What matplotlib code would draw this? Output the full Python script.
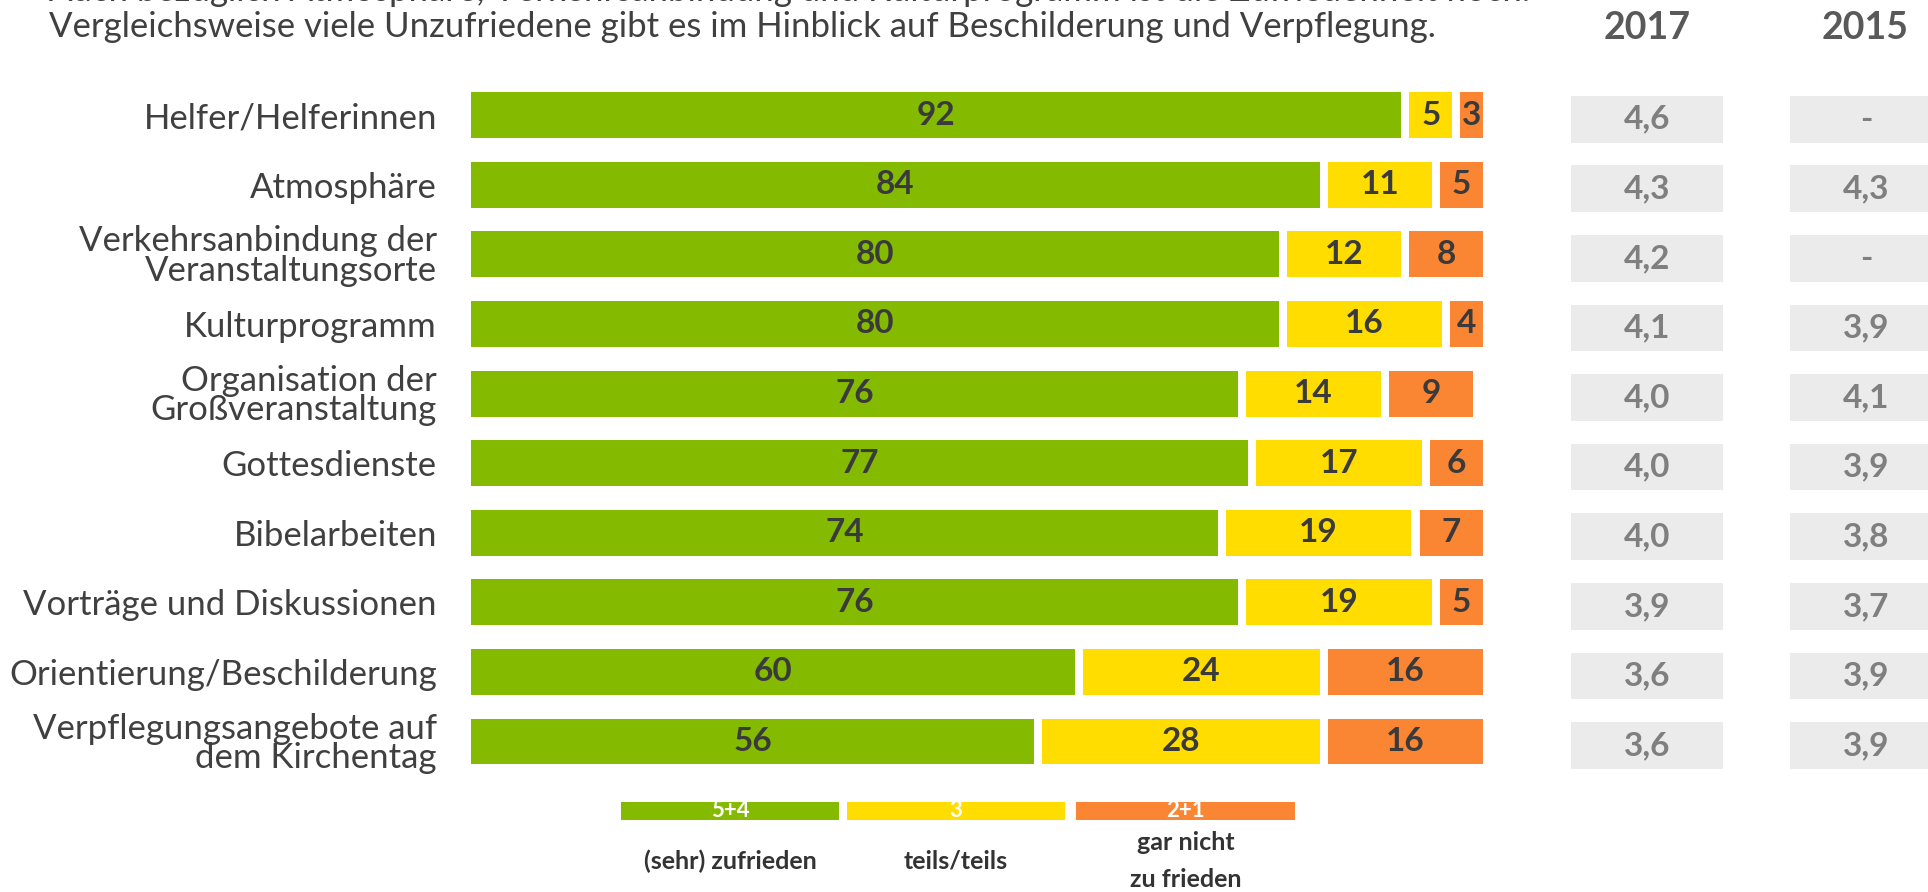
import matplotlib
matplotlib.use("Agg")
import matplotlib.pyplot as plt

W, H = 1928, 892

categories = [
    "Helfer/Helferinnen",
    "Atmosphäre",
    "Verkehrsanbindung der\nVeranstaltungsorte",
    "Kulturprogramm",
    "Organisation der\nGroßveranstaltung",
    "Gottesdienste",
    "Bibelarbeiten",
    "Vorträge und Diskussionen",
    "Orientierung/Beschilderung",
    "Verpflegungsangebote auf\ndem Kirchentag",
]
zufrieden = [92, 84, 80, 80, 76, 77, 74, 76, 60, 56]
teils = [5, 11, 12, 16, 14, 17, 19, 19, 24, 28]
unzufrieden = [3, 5, 8, 4, 9, 6, 7, 5, 16, 16]
mean_2017 = ["4,6", "4,3", "4,2", "4,1", "4,0", "4,0", "4,0", "3,9", "3,6", "3,6"]
mean_2015 = ["-", "4,3", "-", "3,9", "4,1", "3,9", "3,8", "3,7", "3,9", "3,9"]
years = ["2017", "2015"]
legend_keys = ["5+4", "3", "2+1"]
legend_labels = ["(sehr) zufrieden", "teils/teils", "gar nicht\nzu frieden"]

GREEN = "#84BB00"
YELLOW = "#FFDD00"
ORANGE = "#FA8633"
TXT = "#404040"
FONT = "Lato"

plt.rcParams["font.family"] = [FONT, "DejaVu Sans"]


def fx(x):
    return x / W


def fy(y):
    return 1 - y / H


fig = plt.figure(figsize=(W / 100, H / 100), dpi=100)

# ****** stacked bars
top, bottom = 80.4, 776.3
ax = fig.add_axes([fx(471), fy(bottom), (1491 - 471) / W, (bottom - top) / H])
rows = list(range(len(categories)))
gap = 0.8
starts = [0] * len(rows)
for vals, col in [(zufrieden, GREEN), (teils, YELLOW), (unzufrieden, ORANGE)]:
    widths = [v - gap for v in vals]
    ax.barh(rows, widths, left=starts, height=0.66, color=col, linewidth=0)
    for i, v in enumerate(vals):
        ax.text(starts[i] + (v - gap) / 2, i, str(v), ha="center", va="center",
                fontsize=24, fontweight="bold", color="#3A3A3A")
    starts = [s + v for s, v in zip(starts, vals)]

ax.set_xlim(0, 100)
ax.set_ylim(len(rows) - 0.5, -0.5)
ax.set_yticks(rows, categories, fontsize=25, color=TXT, linespacing=0.9)
ax.tick_params(axis="y", length=0, pad=24.5)
ax.set_xticks([])
for s in ax.spines.values():
    s.set_visible(False)

# ****** mean value boxes
axr = fig.add_axes([fx(1571), fy(bottom + 4), (1942 - 1571) / W, (bottom - top) / H])
col_left = [0, 219]
for c, vals in enumerate([mean_2017, mean_2015]):
    axr.barh(rows, 152, left=col_left[c], height=0.67, color="#EBEBEB", linewidth=0)
    for i, v in enumerate(vals):
        axr.text(col_left[c] + 76, i, v, ha="center", va="center",
                 fontsize=24, fontweight="bold", color="#7F7F7F")
axr.set_xlim(0, 371)
axr.set_ylim(len(rows) - 0.5, -0.5)
axr.axis("off")

for x, yr in zip([1647, 1865], years):
    fig.text(fx(x), fy(28), yr, ha="center", va="center", fontsize=27,
             fontweight="bold", color="#595959")

# ****** title (first line cut off at the top)
fig.text(fx(49), fy(-9),
         "Auch bezüglich Atmosphäre, Verkehrsanbindung und Kulturprogramm ist die Zufriedenheit hoch.",
         ha="left", va="center", fontsize=25, color=TXT)
fig.text(fx(49), fy(27),
         "Vergleichsweise viele Unzufriedene gibt es im Hinblick auf Beschilderung und Verpflegung.",
         ha="left", va="center", fontsize=25, color=TXT)

# ****** legend
axl = fig.add_axes([0, fy(820), 1, 18.3 / H])
leg_left = [621, 847, 1076]
leg_w = [218, 218, 219]
axl.barh([0.5] * 3, leg_w, left=leg_left, height=1, color=[GREEN, YELLOW, ORANGE], linewidth=0)
for l, w, k in zip(leg_left, leg_w, legend_keys):
    axl.text(l + w / 2, 0.5, k, ha="center", va="center", fontsize=16,
             fontweight="bold", color="white")
axl.set_xlim(0, W)
axl.set_ylim(0, 1)
axl.axis("off")

for l, w, lab in zip(leg_left, leg_w, legend_labels):
    fig.text(fx(l + w / 2), fy(861), lab, ha="center", va="center", fontsize=18,
             fontweight="bold", color="#333333", linespacing=1.7)

fig.savefig("out.png", dpi=100)
